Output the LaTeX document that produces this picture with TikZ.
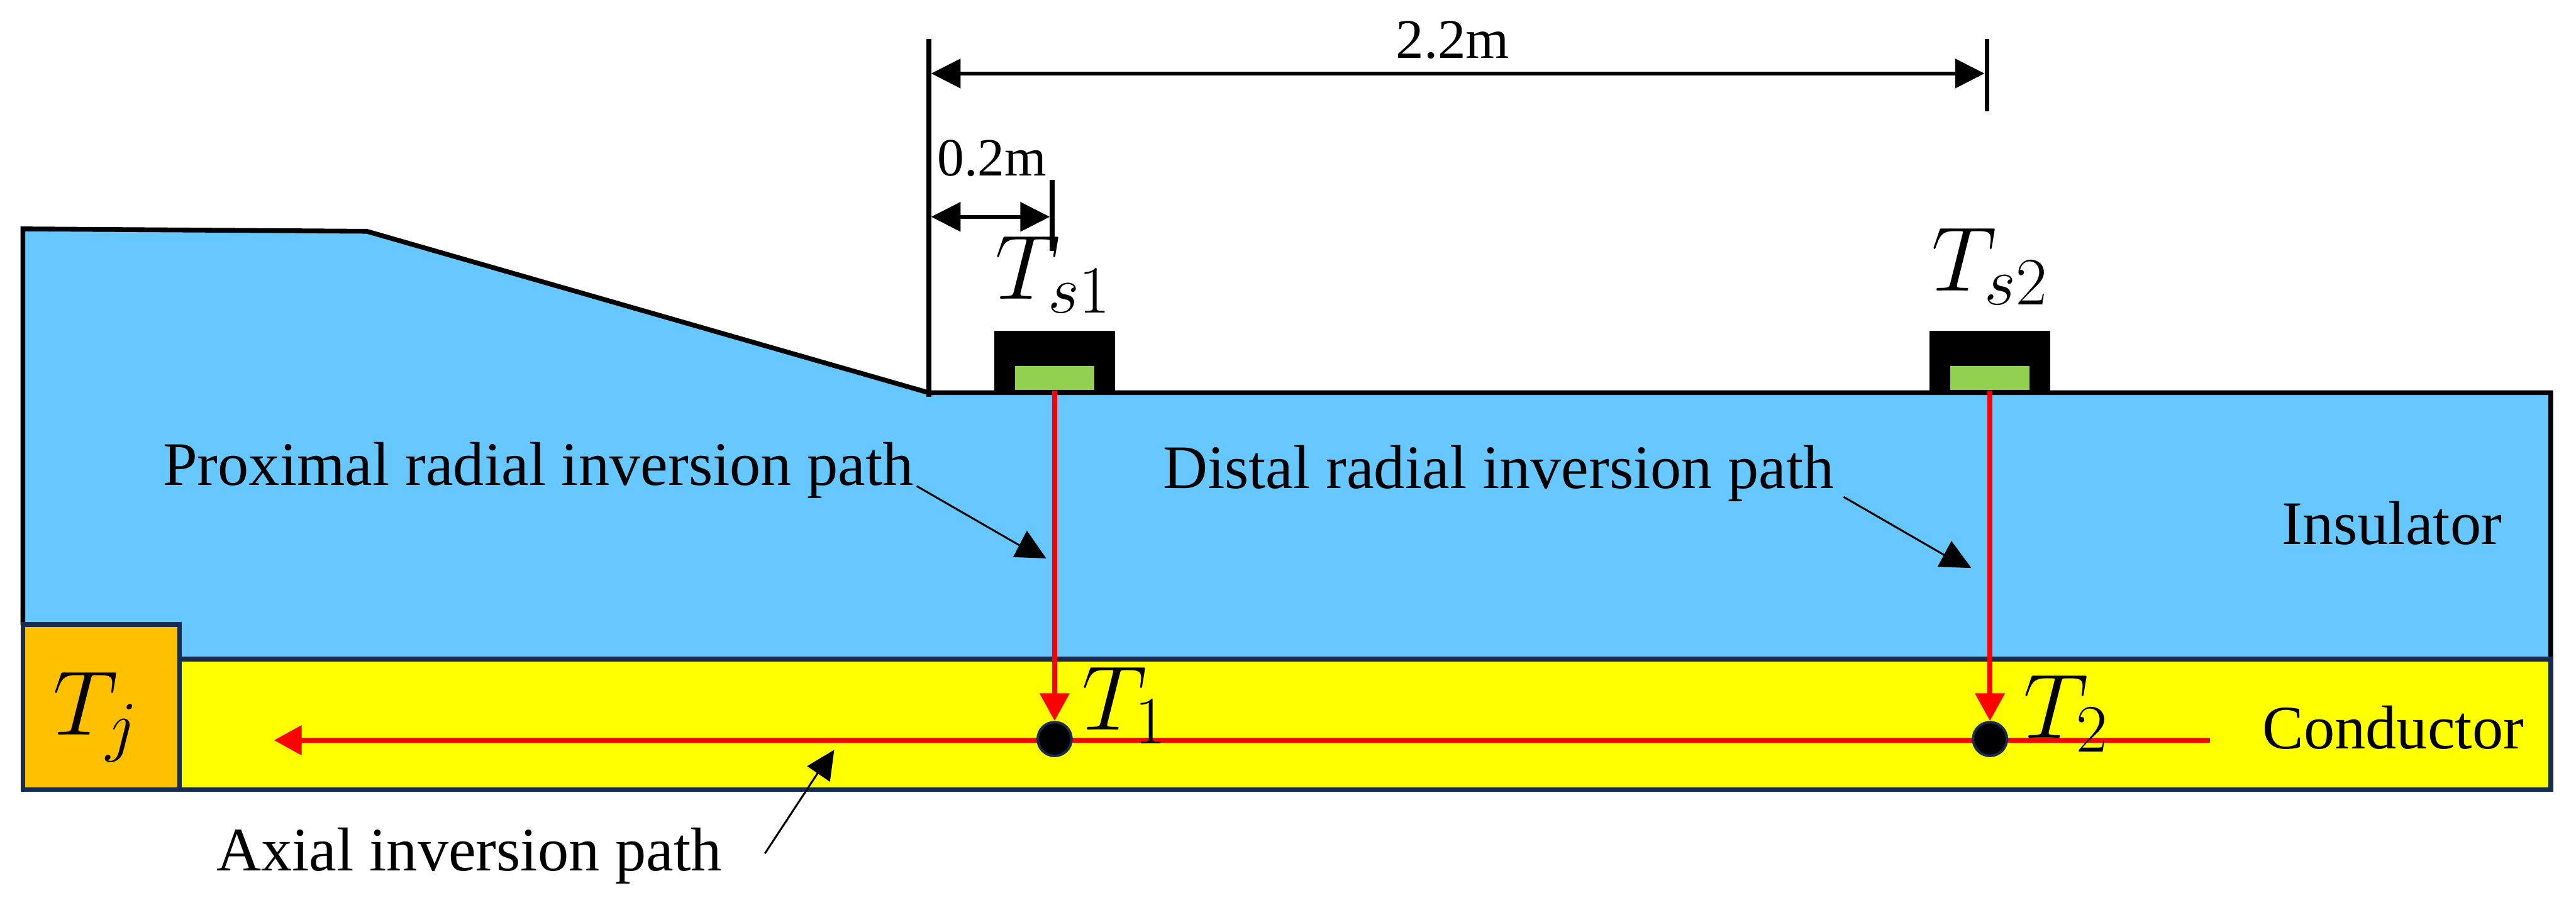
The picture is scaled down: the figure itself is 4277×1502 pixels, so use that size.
\RequirePackage{fix-cm}
\documentclass[tikz,border=0pt]{standalone}
\usepackage[no-math]{fontspec}
\setmainfont{Liberation Serif}
\usetikzlibrary{arrows.meta}
\DeclareMathSizes{43.2}{43.2}{32}{24}

\definecolor{insulblue}{HTML}{66C8FF}
\definecolor{condyellow}{HTML}{FFFF00}
\definecolor{jointorange}{HTML}{FFC000}
\definecolor{coregreen}{HTML}{92D050}
\definecolor{edgenavy}{HTML}{172C51}

\tikzset{
	pathlabel/.style={inner sep=0pt, anchor=base west, font=\fontsize{29.2}{35}\selectfont},
	templabel/.style={inner sep=0pt, anchor=base west, font=\fontsize{43.2}{52}\selectfont},
	edgeline/.style={draw=edgenavy, line width=2.3pt},
	blackline/.style={draw=black, line width=2.25pt},
	dimline/.style={black, line width=1.9pt, {Triangle[length=13.9pt,width=13.6pt]}-{Triangle[length=13.9pt,width=13.6pt]}},
	redpath/.style={red, line width=2.3pt, -{Triangle[length=13pt,width=13.6pt]}},
	thinpointer/.style={black, line width=0.9pt},
	sensorbox/.style={fill=black, inner sep=0pt, minimum width=200*0.2845pt, minimum height=99*0.2845pt},
	sensorcore/.style={fill=coregreen, inner sep=0pt, minimum width=132*0.2845pt, minimum height=40*0.2845pt},
	tempdot/.style={circle, fill=black, draw=edgenavy, line width=1.2pt, inner sep=0pt, minimum size=56*0.2845pt},
}

\begin{document}
\begin{tikzpicture}[x=0.01cm, y=-0.01cm]

		\useasboundingbox (0,0) rectangle (4277,1502);

		% insulator, conductor and joint
		\fill[insulblue] (38,1100) -- (38,380) -- (609,384) -- (1542,652) -- (4235,652) -- (4235,1100) -- cycle;
		\draw[blackline, line join=miter] (38,1037) -- (38,380) -- (609,384) -- (1542,652) -- (4235,652) -- (4235,1095);
		\filldraw[fill=condyellow, edgeline] (298,1094) rectangle (4235,1311);
		\filldraw[fill=jointorange, edgeline] (38,1037) rectangle (298,1311);

		% axial path goes under the dots
		\coordinate (axialstart) at (3669,1229);
		\coordinate (axialend) at (455,1229);
		\draw[redpath] (axialstart) -- (axialend);

		% sensors on the surface
		\foreach \x/\n in {1751/1,3304/2}{
			\node[sensorbox] (box\n) at (\x,598.5) {};
			\node[sensorcore] (core\n) at (\x,627.5) {};
			\node[tempdot] (dot\n) at (\x,1227) {};
			\draw[redpath] (core\n.south) -- (dot\n.north);
		}

		% dimensions
		\coordinate (reftop) at (1542,65);
		\coordinate (refbot) at (1542,659);
		\coordinate (tickatop) at (1747,299);
		\coordinate (tickabot) at (1747,417);
		\coordinate (tickbtop) at (3299,65);
		\coordinate (tickbbot) at (3299,185);
		\draw[blackline] (reftop) -- (refbot);
		\draw[blackline] (tickatop) -- (tickabot);
		\draw[blackline] (tickbtop) -- (tickbbot);
		\coordinate (longleft) at (1546,122);
		\coordinate (longright) at (3295,122);
		\coordinate (shortleft) at (1546,360);
		\coordinate (shortright) at (1743,360);
		\draw[dimline] (longleft) -- (longright);
		\draw[dimline] (shortleft) -- (shortright);

		\node[pathlabel, font=\fontsize{26.4}{32}\selectfont] (longdim) at (2317,97) {2.2m};
		\node[pathlabel, font=\fontsize{25.4}{30}\selectfont] (shortdim) at (1556,292) {0.2m};

		% labels
		\node[pathlabel] (proxlabel) at (270,806) {Proximal radial inversion path};
		\node[pathlabel] (distlabel) at (1930,811) {Distal radial inversion path};
		\node[pathlabel] (axiallabel) at (359,1446) {Axial inversion path};
		\node[pathlabel] (insulabel) at (3788,904) {Insulator};
		\node[pathlabel] (condlabel) at (3756,1243) {Conductor};

		\node[templabel] (tsone) at (1652,497) {$T_{s1}$};
		\node[templabel] (tstwo) at (3207,483) {$T_{s2}$};
		\node[templabel] (tone) at (1796,1212) {$T_1$};
		\node[templabel] (ttwo) at (3359,1225) {$T_2$};
		\node[templabel] (tj) at (88,1220) {$T_j$};

		% pointers from the labels
		\coordinate (proxfrom) at (1522,807);
		\coordinate (proxto) at (1692,905);
		\coordinate (distfrom) at (3061,825);
		\coordinate (distto) at (3229,922);
		\coordinate (axialfrom) at (1270,1417);
		\coordinate (axialto) at (1360,1280);
		\draw[thinpointer] (proxfrom) -- (proxto);
		\draw[thinpointer] (distfrom) -- (distto);
		\draw[thinpointer] (axialfrom) -- (axialto);
		\fill (1705,881) -- (1682,925) -- (1737,927) -- cycle;
		\fill (3240,898) -- (3217,941) -- (3273,943) -- cycle;
		\fill (1385,1245) -- (1340,1272) -- (1378,1298) -- cycle;

\end{tikzpicture}
\end{document}
